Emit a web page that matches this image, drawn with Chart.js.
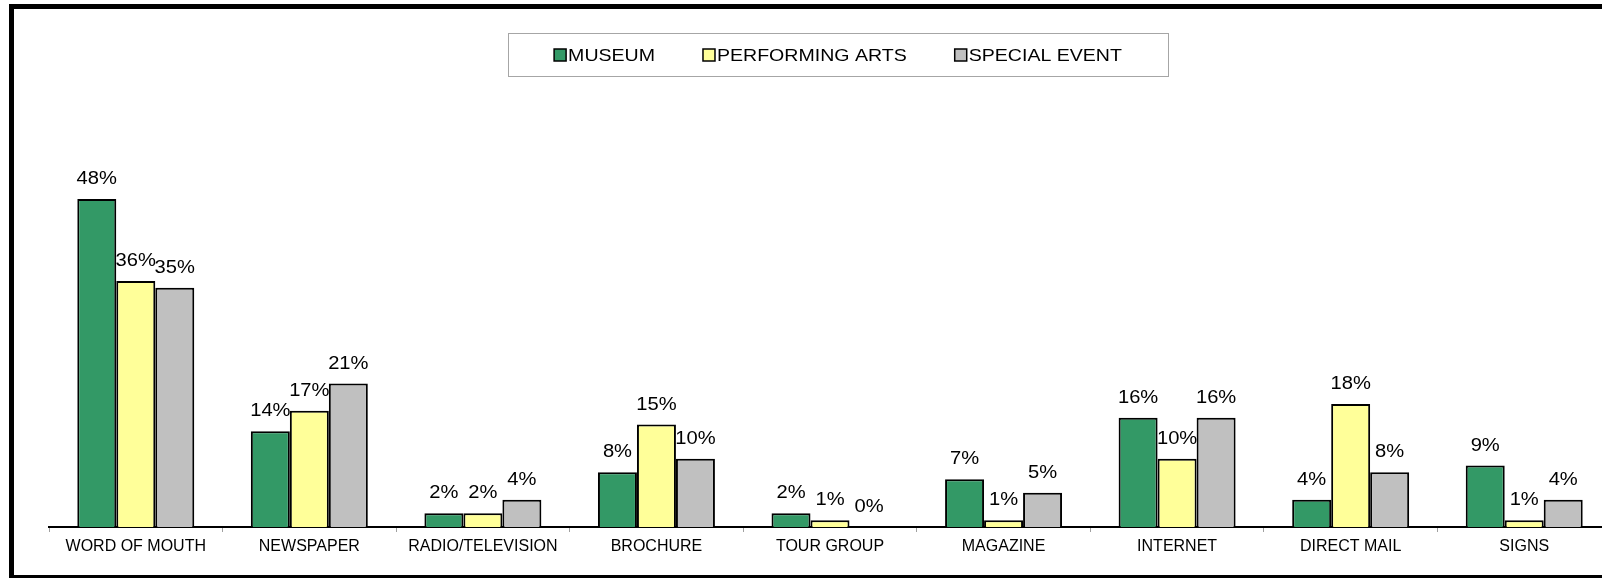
<!DOCTYPE html>
<html>
<head>
<meta charset="utf-8">
<title>Marketing sources by venue type</title>
<script src="https://cdn.jsdelivr.net/npm/chart.js@4.4.1/dist/chart.umd.min.js"></script>
<style>
  html, body { margin: 0; padding: 0; background: #fff; overflow: hidden; }
  #chart { position: absolute; left: 0; top: 0; }
  #frame {
    position: absolute; left: 9px; top: 4px; width: 1700px; height: 576px;
    border: 5px solid #000; box-sizing: border-box; pointer-events: none;
  }
</style>
</head>
<body>
<canvas id="chart" width="1640" height="578"></canvas>
<div id="frame"></div>
<script>
// Data
const categories = ["WORD OF MOUTH", "NEWSPAPER", "RADIO/TELEVISION", "BROCHURE", "TOUR GROUP", "MAGAZINE", "INTERNET", "DIRECT MAIL", "SIGNS"];
const museum = [48, 14, 2, 8, 2, 7, 16, 4, 9];
const performingArts = [36, 17, 2, 15, 1, 1, 10, 18, 1];
const specialEvent = [35, 21, 4, 10, 0, 5, 16, 8, 4];

const FONT = '"Liberation Sans", Arial, sans-serif';

// value labels above each bar (text slightly widened like the original)
const barValues = {
  id: "barValues",
  afterDatasetsDraw(chart, args, opts) {
    const ctx = chart.ctx;
    ctx.save();
    ctx.font = opts.font;
    ctx.fillStyle = opts.color;
    ctx.textAlign = "center";
    ctx.textBaseline = "alphabetic";
    chart.data.datasets.forEach((ds, i) => {
      chart.getDatasetMeta(i).data.forEach((bar, j) => {
        ctx.save();
        ctx.translate(bar.x, bar.y - opts.offset);
        ctx.scale(opts.stretch, 1);
        ctx.fillText(ds.data[j] + "%", 0, 0);
        ctx.restore();
      });
    });
    ctx.restore();
  },
};

// legend inside a thin grey box, swatch right next to the text
const framedLegend = {
  id: "framedLegend",
  afterDraw(chart, args, opts) {
    const ctx = chart.ctx;
    const sets = chart.data.datasets;
    ctx.save();
    ctx.font = opts.font;
    const widths = sets.map((ds) => ctx.measureText(ds.label).width * opts.stretch);
    const content = widths.reduce((a, w) => a + opts.box + opts.gap + w, 0) + opts.spacing * (sets.length - 1);
    const boxW = Math.round(content + opts.padX * 2);
    const boxX = Math.round(opts.centerX - boxW / 2);
    ctx.strokeStyle = opts.borderColor;
    ctx.lineWidth = 1;
    ctx.strokeRect(boxX + 0.5, opts.top + 0.5, boxW, opts.height);

    let x = opts.centerX - content / 2;
    const base = opts.top + opts.baseline;
    sets.forEach((ds, i) => {
      ctx.fillStyle = ds.backgroundColor;
      ctx.fillRect(x, base - opts.box, opts.box, opts.box);
      ctx.lineWidth = 1.5;
      ctx.strokeStyle = "#000";
      ctx.strokeRect(x, base - opts.box, opts.box, opts.box);
      x += opts.box + opts.gap;
      ctx.save();
      ctx.translate(x, base);
      ctx.scale(opts.stretch, 1);
      ctx.fillStyle = "#000";
      ctx.textBaseline = "alphabetic";
      ctx.fillText(ds.label, 0, 0);
      ctx.restore();
      x += widths[i] + opts.spacing;
    });
    ctx.restore();
  },
};

const ctx = document.getElementById("chart").getContext("2d");
new Chart(ctx, {
  type: "bar",
  data: {
    labels: categories,
    datasets: [
      { label: "MUSEUM", data: museum, backgroundColor: "#339966" },
      { label: "PERFORMING ARTS", data: performingArts, backgroundColor: "#ffff99" },
      { label: "SPECIAL EVENT", data: specialEvent, backgroundColor: "#c0c0c0" },
    ],
  },
  options: {
    responsive: false,
    animation: false,
    devicePixelRatio: 1,
    layout: { padding: { left: 49, right: 29, top: 117, bottom: 0 } },
    datasets: {
      bar: {
        categoryPercentage: 0.674,
        barPercentage: 1.0,
        borderColor: "#000",
        borderWidth: 2,
      },
    },
    plugins: {
      legend: { display: false },
      tooltip: { enabled: false },
      barValues: { font: "18px " + FONT, color: "#000", offset: 15, stretch: 1.12 },
      framedLegend: {
        font: "17px " + FONT,
        stretch: 1.15,
        centerX: 838,
        top: 33,
        height: 43,
        baseline: 28,
        box: 12,
        gap: 2,
        spacing: 48,
        padX: 46,
        borderColor: "#a6a6a6",
      },
    },
    scales: {
      x: {
        grid: { display: true, drawOnChartArea: false, tickLength: 5, color: "#a0a0a0", offset: true },
        border: { color: "#000", width: 2 },
        ticks: { color: "#000", font: { family: FONT, size: 16 }, padding: 5, maxRotation: 0, autoSkip: false },
        afterFit(scale) { scale.height = 51; },
      },
      y: { display: false, min: 0, max: 60 },
    },
  },
  plugins: [barValues, framedLegend],
});
</script>
</body>
</html>
